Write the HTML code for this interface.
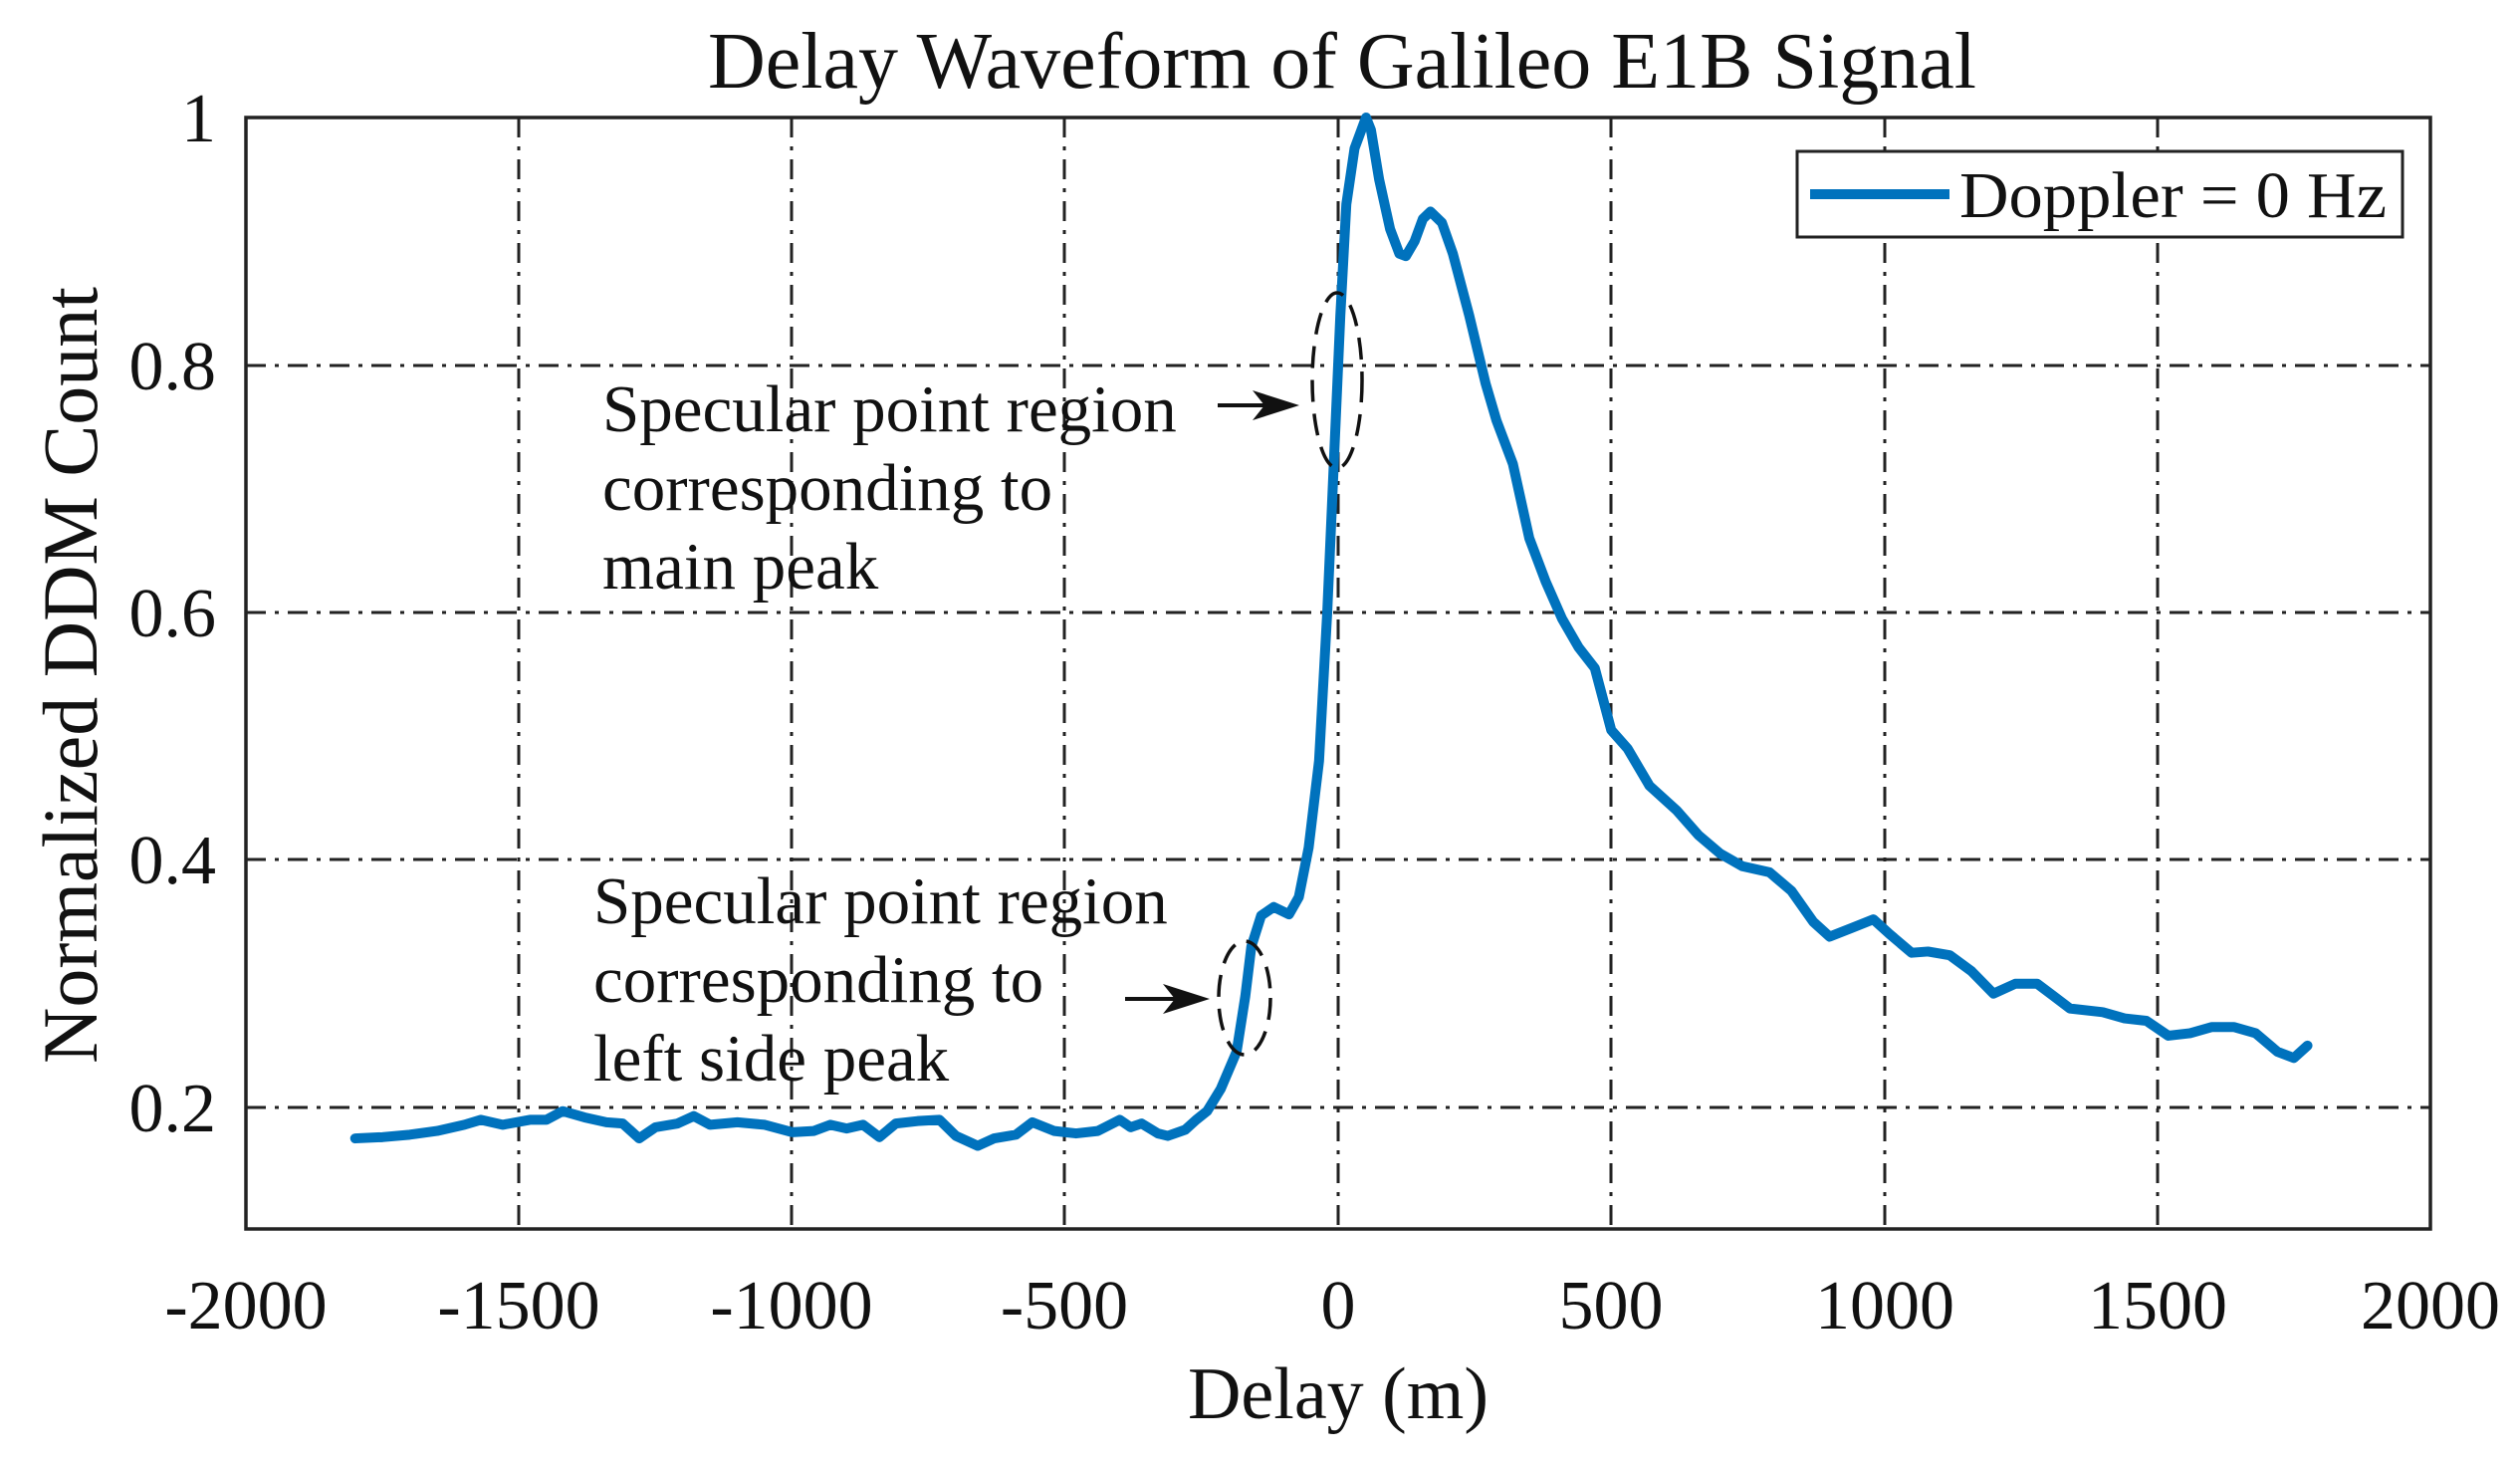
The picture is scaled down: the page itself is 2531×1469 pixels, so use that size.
<!DOCTYPE html>
<html><head><meta charset="utf-8"><style>
html,body{margin:0;padding:0;background:#fff}
svg{display:block}
text{font-family:"Liberation Serif",serif;fill:#111}
</style></head><body>
<svg width="2531" height="1469" viewBox="0 0 2531 1469" xmlns="http://www.w3.org/2000/svg">
<rect width="2531" height="1469" fill="#fff"/>
<g stroke="#222" stroke-width="3" stroke-dasharray="20 9 4 9" fill="none">
<line x1="521" y1="118" x2="521" y2="1234"/>
<line x1="795" y1="118" x2="795" y2="1234"/>
<line x1="1069" y1="118" x2="1069" y2="1234"/>
<line x1="1344" y1="118" x2="1344" y2="1234"/>
<line x1="1618" y1="118" x2="1618" y2="1234"/>
<line x1="1893" y1="118" x2="1893" y2="1234"/>
<line x1="2167" y1="118" x2="2167" y2="1234"/>
<line x1="247" y1="367" x2="2441" y2="367"/>
<line x1="247" y1="615" x2="2441" y2="615"/>
<line x1="247" y1="863" x2="2441" y2="863"/>
<line x1="247" y1="1112" x2="2441" y2="1112"/>
</g>
<rect x="247" y="118" width="2194" height="1116" fill="none" stroke="#222" stroke-width="3.5"/>
<g transform="matrix(0.5485,0,0,-1242.5,1344,1360.5)">
<polyline fill="none" stroke="#0072BD" stroke-width="10" vector-effect="non-scaling-stroke" stroke-linejoin="round" stroke-linecap="round" points="
-1800,0.175 -1750,0.176 -1700,0.178 -1650,0.181 -1600,0.186 -1570,0.19 -1530,0.186 -1480,0.19 -1450,0.19 -1420,0.197 -1380,0.192 -1340,0.188 -1310,0.187 -1280,0.175 -1250,0.184 -1210,0.187 -1180,0.193 -1150,0.186 -1100,0.188 -1050,0.186 -1000,0.18 -960,0.181 -930,0.186 -900,0.183 -870,0.186 -840,0.176 -810,0.187 -770,0.189 -730,0.19 -700,0.177 -660,0.169 -630,0.175 -590,0.178 -560,0.188 -520,0.181 -480,0.179 -440,0.181 -400,0.19 -380,0.184 -360,0.187 -330,0.179 -312,0.177 -280,0.182 -260,0.19 -240,0.197 -215,0.215 -186,0.245 -170,0.29 -159,0.33 -141,0.355 -118,0.362 -90,0.356 -72,0.37 -54,0.41 -35,0.48 -20,0.6 -8,0.72 4,0.84 15,0.93 30,0.975 51,1.0 60,0.99 75,0.95 95,0.91 112,0.89 124,0.888 140,0.9 155,0.918 169,0.924 190,0.915 210,0.89 240,0.84 270,0.785 290,0.755 320,0.72 350,0.66 380,0.625 410,0.595 440,0.572 470,0.555 500,0.505 530,0.49 570,0.46 620,0.44 660,0.42 700,0.405 740,0.395 790,0.39 830,0.375 870,0.35 900,0.338 940,0.345 980,0.352 1010,0.34 1050,0.325 1080,0.326 1120,0.323 1160,0.31 1200,0.292 1240,0.3 1280,0.3 1310,0.29 1340,0.28 1400,0.277 1440,0.272 1480,0.27 1520,0.258 1560,0.26 1600,0.265 1640,0.265 1680,0.26 1720,0.245 1750,0.24 1775,0.25"/>
</g>
<g fill="none" stroke="#111" stroke-width="3.5" stroke-dasharray="22 12">
<ellipse cx="1343" cy="382" rx="25" ry="88"/>
<ellipse cx="1250" cy="1002" rx="26" ry="57"/>
</g>
<g stroke="#111" stroke-width="4">
<line x1="1223" y1="407" x2="1280" y2="407"/>
<line x1="1130" y1="1003" x2="1190" y2="1003"/>
</g>
<polygon points="1305,407 1258,392 1270,407 1258,422" fill="#111"/>
<polygon points="1215,1003 1168,988 1180,1003 1168,1018" fill="#111"/>
<g font-size="67">
<text x="605" y="433">Specular point region</text>
<text x="605" y="512">corresponding to</text>
<text x="605" y="591">main peak</text>
<text x="596" y="927">Specular point region</text>
<text x="596" y="1006">corresponding to</text>
<text x="596" y="1085">left side peak</text>
</g>
<rect x="1805" y="152" width="608" height="86" fill="#fff" stroke="#222" stroke-width="3"/>
<line x1="1818" y1="195" x2="1958" y2="195" stroke="#0072BD" stroke-width="10"/>
<text x="1968" y="218" font-size="66" textLength="429" lengthAdjust="spacingAndGlyphs">Doppler = 0 Hz</text>
<g font-size="70" text-anchor="end">
<text x="217" y="142">1</text>
<text x="217" y="391">0.8</text>
<text x="217" y="639">0.6</text>
<text x="217" y="887">0.4</text>
<text x="217" y="1136">0.2</text>
</g>
<g font-size="70" text-anchor="middle">
<text x="247" y="1334">-2000</text>
<text x="521" y="1334">-1500</text>
<text x="795" y="1334">-1000</text>
<text x="1069" y="1334">-500</text>
<text x="1344" y="1334">0</text>
<text x="1618" y="1334">500</text>
<text x="1893" y="1334">1000</text>
<text x="2167" y="1334">1500</text>
<text x="2441" y="1334">2000</text>
</g>
<text x="1344" y="1424" font-size="74" text-anchor="middle">Delay (m)</text>
<text transform="translate(97,678) rotate(-90)" font-size="78" text-anchor="middle">Normalized DDM Count</text>
<text x="1348" y="88" font-size="80" text-anchor="middle">Delay Waveform of Galileo E1B Signal</text>
</svg>
</body></html>
